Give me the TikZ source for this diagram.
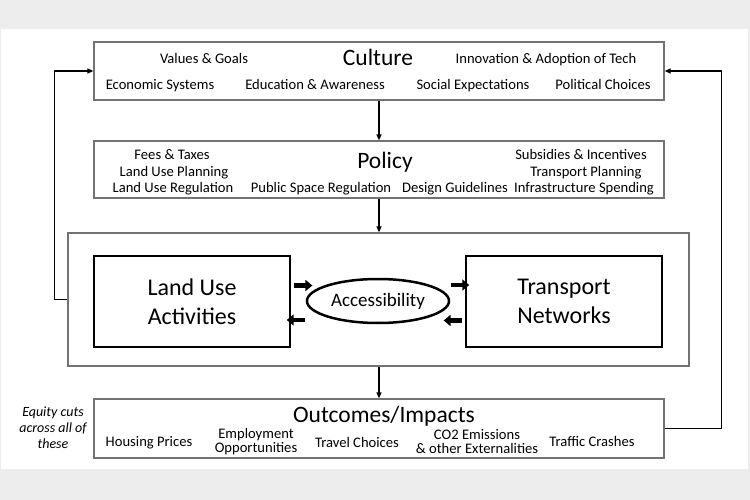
\documentclass[tikz,border=0pt]{standalone}
\usepackage{fontspec}
\setmainfont{Carlito}
\usetikzlibrary{arrows.meta,shapes.geometric}

\tikzset{
  link/.style={draw=black,line width=1.3pt,-{Triangle[length=6pt,width=5pt]}},
  fatlink/.style={draw=black,line width=4.5pt,-{Triangle[length=7pt,width=11pt]}},
  titletext/.style={font=\fontsize{23.5}{26}\selectfont},
  itemtext/.style={font=\fontsize{14.6}{14.5}\selectfont,align=center,inner sep=0pt,anchor=base},
  bigbox/.style={draw=black,line width=2.8pt,minimum width=196pt,minimum height=91pt,
    align=center,font=\fontsize{24}{29}\selectfont}
}

\begin{document}
\begin{tikzpicture}[x=1pt,y=-1pt]
        \fill[gray!14] (0,0) rectangle (750,500);
        \fill[white] (1,29) rectangle (748,469);
        \begin{scope}[every node/.style={draw=black!55,line width=1.2pt,minimum width=570pt,inner sep=0pt}]
          \node[minimum height=58pt] (culture) at (379,71) {};
          \node[minimum height=57pt] (policy) at (379,169.5) {};
          \node[minimum width=621pt,minimum height=133pt] (system) at (378.5,299.5) {};
          \node[minimum height=59pt] (outcomes) at (379,428.5) {};
        \end{scope}
        \node[bigbox] (landuse) at (192,301.5) {Land Use\\Activities};
        \node[bigbox] (transport) at (564,301.5) {Transport\\Networks};
        \node[ellipse,draw,line width=2.5pt,minimum width=130pt,minimum height=44pt,
          font=\fontsize{19}{22}\selectfont] (access) at (378,301) {Accessibility};
        \begin{scope}[every node/.style={itemtext}]
          \node[titletext] (culturetitle) at (378,65.5) {Culture};
          \node (values) at (204,63.5) {Values \& Goals};
          \node (innovation) at (546,63.5) {Innovation \& Adoption of Tech};
          \node (economic) at (160,89.5) {Economic Systems};
          \node (education) at (315,89.5) {Education \& Awareness};
          \node (social) at (473,89.5) {Social Expectations};
          \node (political) at (603,89.5) {Political Choices};
          \node[titletext] (policytitle) at (385,168) {Policy};
          \node (fees) at (172,159.5) {Fees \& Taxes};
          \node (planning) at (174,176.5) {Land Use Planning};
          \node (regulation) at (173,192.5) {Land Use Regulation};
          \node (publicspace) at (321,192.5) {Public Space Regulation};
          \node (design) at (455,192.5) {Design Guidelines};
          \node (subsidies) at (581,159.5) {Subsidies \& Incentives};
          \node (transplan) at (586,176.5) {Transport Planning};
          \node (infra) at (584,192.5) {Infrastructure Spending};
          \node[titletext] (outcomestitle) at (384,422) {Outcomes/Impacts};
          \node (housing) at (149,446.5) {Housing Prices};
          \node (employment) at (256,452.5) {Employment\\Opportunities};
          \node (travel) at (357,447.5) {Travel Choices};
          \node (emissions) at (477,453.5) {CO2 Emissions\\\& other Externalities};
          \node (crashes) at (592,446.5) {Traffic Crashes};
          \node[font=\fontsize{14}{16}\selectfont\itshape] (equity) at (53,448.5) {Equity cuts\\across all of\\these};
        \end{scope}
        \begin{scope}[every path/.style={link}]
          \path (culture.south) -- (policy.north);
          \path (policy.south) -- (policy.south |- system.north);
          \path (system.south -| policy.south) -- (outcomes.north);
          \path (system.west) -- ++(-13,0) |- (culture.west);
          \path (outcomes.east) -- ++(57,0) |- (culture.east);
        \end{scope}
        \draw[fatlink] (landuse.east) ++(3,-16) -- ++(18,0);
        \draw[fatlink] (access.west) ++(-1,19) -- ++(-18,0);
        \draw[fatlink] (access.east) ++(1,-16) -- ++(18,0);
        \draw[fatlink] (transport.west) ++(-3,19) -- ++(-18,0);
\end{tikzpicture}
\end{document}
